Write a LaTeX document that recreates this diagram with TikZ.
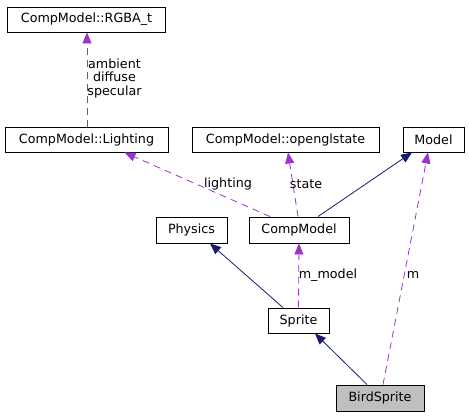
\documentclass[tikz,border=0pt]{standalone}
\usepackage{fontspec}
\setmainfont{DejaVu Sans}
\usetikzlibrary{arrows.meta}
\definecolor{edgepurple}{HTML}{9A32CD}
\definecolor{edgenavy}{HTML}{191970}
\definecolor{nodegray}{HTML}{BFBFBF}
\tikzset{
  cls/.style={draw=black, line width=0.9pt, inner sep=0pt, font=\fontsize{12.7}{14}\selectfont, anchor=center},
  uses/.style={draw=edgepurple, line width=0.8pt, dash pattern=on 7pt off 5pt, -{Triangle[length=11pt,width=9pt]}, edgepurple},
  inherit/.style={draw=edgenavy, line width=0.8pt, -{Triangle[length=11pt,width=9pt]}, edgenavy},
  lbl/.style={font=\fontsize{12.7}{13.5}\selectfont, inner sep=0pt, align=center, text=black}
}
\begin{document}
\begin{tikzpicture}[x=1pt,y=-1pt]
\useasboundingbox (0,0) rectangle (469,416);
\node[cls, minimum width=158pt, minimum height=25pt] (rgba) at (86.5,19.5) {CompModel::RGBA\_t};
\node[cls, minimum width=163pt, minimum height=25pt] (light) at (86.5,139.5) {CompModel::Lighting};
\node[cls, minimum width=187pt, minimum height=25pt] (ogl) at (285.5,139.5) {CompModel::openglstate};
\node[cls, minimum width=61pt, minimum height=25pt] (model) at (433.5,139.5) {Model};
\node[cls, minimum width=71pt, minimum height=26pt] (phys) at (191.5,230) {Physics};
\node[cls, minimum width=100pt, minimum height=26pt] (comp) at (299,230) {CompModel};
\node[cls, minimum width=61pt, minimum height=25pt] (sprite) at (298.5,320.5) {Sprite};
\node[cls, fill=nodegray, minimum width=88pt, minimum height=26pt] (bird) at (380,398) {BirdSprite};

\coordinate (l1s) at (87,127);
\coordinate (l1e) at (87,32);
\draw[uses] (light.north -| l1s) -- (rgba.south -| l1e);
\node[lbl] (lab1) at (114.5,78) {ambient\\diffuse\\specular};

\draw[uses] ([xshift=-29pt]comp.north) -- ([xshift=38pt]light.south);
\node[lbl] (lab2) at (228,184) {lighting};

\draw[uses] ([xshift=-1pt]comp.north) -- ([xshift=2.5pt]ogl.south);
\node[lbl] (lab3) at (306,184) {state};

\draw[inherit] ([xshift=19pt]comp.north) -- ([xshift=-21.5pt]model.south);

\draw[uses] ([xshift=3pt]bird.north) -- ([xshift=-5.5pt]model.south);
\node[lbl] (lab4) at (413,275) {m};

\draw[inherit] ([xshift=-15.5pt]sprite.north) -- ([xshift=18.5pt]phys.south);

\draw[uses] (sprite.north) -- (comp.south);
\node[lbl] (lab5) at (328,275) {m\_model};

\draw[inherit] ([xshift=-13pt]bird.north) -- ([xshift=16.5pt]sprite.south);
\end{tikzpicture}
\end{document}
